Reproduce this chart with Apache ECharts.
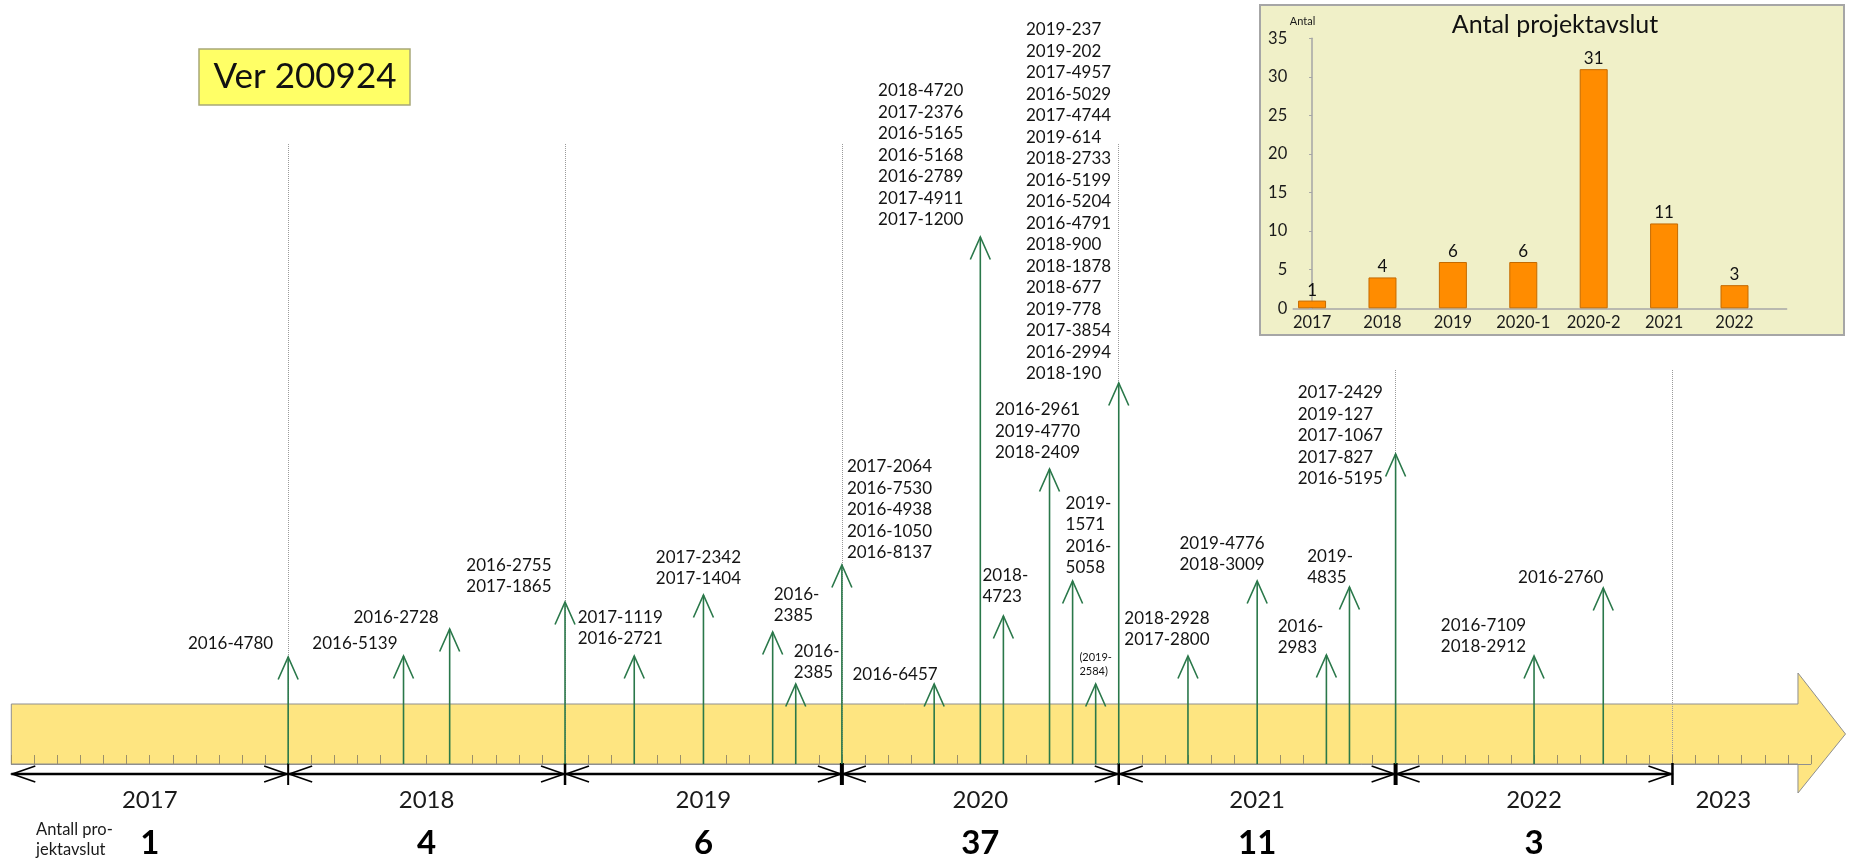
<!DOCTYPE html>
<html><head><meta charset="utf-8">
<script src="https://cdn.jsdelivr.net/npm/echarts@6/dist/echarts.min.js"></script>
<style>html,body{margin:0;padding:0;background:#fff}#c{width:1852px;height:861px}</style>
</head><body><div id="c"></div>
<script>
// ================= DATA =================
const yearLabels = ['2017','2018','2019','2020','2021','2022','2023'];
const yearCounts = [1, 4, 6, 37, 11, 3];
// position of each arrow, in months after 1 Jan 2017
const eventMonths = [12,17,19,24,27,30,33,34,36,40,42,43,45,46,47,48,51,54,57,58,60,66,69];
// arrow heights above the timeline band (layout units)
const eventHeights = [107,108,135,162,108,169,132,80,199,80,527,148,295,183,80,381,108,183,109,177,310,108,176];
const eventIds = [
  ['2016-4780'],
  ['2016-5139'],
  ['2016-2728'],
  ['2016-2755','2017-1865'],
  ['2017-1119','2016-2721'],
  ['2017-2342','2017-1404'],
  ['2016-','2385'],
  ['2016-','2385'],
  ['2017-2064','2016-7530','2016-4938','2016-1050','2016-8137'],
  ['2016-6457'],
  ['2018-4720','2017-2376','2016-5165','2016-5168','2016-2789','2017-4911','2017-1200'],
  ['2018-','4723'],
  ['2016-2961','2019-4770','2018-2409'],
  ['2019-','1571','2016-','5058'],
  ['(2019-','2584)'],
  ['2019-237','2019-202','2017-4957','2016-5029','2017-4744','2019-614','2018-2733','2016-5199','2016-5204','2016-4791','2018-900','2018-1878','2018-677','2019-778','2017-3854','2016-2994','2018-190'],
  ['2018-2928','2017-2800'],
  ['2019-4776','2018-3009'],
  ['2016-','2983'],
  ['2019-','4835'],
  ['2017-2429','2019-127','2017-1067','2017-827','2016-5195'],
  ['2016-7109','2018-2912'],
  ['2016-2760']
];
const insetCategories = ['2017','2018','2019','2020-1','2020-2','2021','2022'];
const insetValues = [1, 4, 6, 6, 31, 11, 3];
const versionLabel = 'Ver 200924';
const insetTitle = 'Antal projektavslut';
const insetAxisName = 'Antal';
const countRowLabel = 'Antall pro-\njektavslut';

// ================= STYLE / LAYOUT =================
const FONT = 'Lato, "Open Sans", sans-serif';
const GREEN = '#2a784a';
const TXT = '#141414';
// label block placement per arrow: [which block edge is anchored, x offset, offset of last line centre from tip]
const labelPlace = [
  ['right',-15,-13],['right',-6,-12],['right',-11,-11],['right',-13.5,-15],
  ['center',-14,-17],['center',-5,-16],['left',1,-16],['left',-2,-11],
  ['left',5,-12],['right',3.5,-9],['right',-17,-17],['center',2,-19],
  ['center',-12,-16],['left',-7,-13],['center',0,-13],['right',-7.6,-9.4],
  ['center',-21,-16],['right',7.5,-16],['right',-3,-7],['right',3.5,-9],
  ['right',-12.7,25],['right',-8,-9],['right',0,-10]
];
const smallLabelIndex = 14;
const band = {bodyEnd: 77.44, tip: 79.5, top: 60, headTop: 91, headBottom: -29};
const boundaryWidth = [2, 2.5, 4, 2.5, 4, 2.5];
const yearLabelCenter = i => (i < 6 ? 12 * i + 6 : 74.2);

const measureCtx = document.createElement('canvas').getContext('2d');
function blockWidth(lines, size) {
  measureCtx.font = size + 'px Lato';
  return Math.max.apply(null, lines.map(l => measureCtx.measureText(l).width));
}

const chart = echarts.init(document.getElementById('c'), null, {renderer: 'canvas'});

function renderBand(params, api) {
  const c = (m, h) => api.coord([m, h]);
  return {
    type: 'polygon',
    shape: {points: [c(0,0), c(band.bodyEnd,0), c(band.bodyEnd,band.headBottom), c(band.tip,band.top/2),
                     c(band.bodyEnd,band.headTop), c(band.bodyEnd,band.top), c(0,band.top)]},
    style: {fill: '#fee581', stroke: '#8f8f8f', lineWidth: 1}
  };
}

function renderYear(params, api) {
  const i = api.value(0);
  const ch = [];
  if (i < 6) {
    const a = api.coord([12 * i, -10]), b = api.coord([12 * i + 12, -10]);
    ch.push({type: 'line', shape: {x1: a[0], y1: a[1], x2: b[0], y2: b[1]}, style: {stroke: '#000', lineWidth: 2.5}});
    ch.push({type: 'polyline', shape: {points: [[a[0]+24, a[1]-8], [a[0]+1, a[1]], [a[0]+24, a[1]+8]]}, style: {stroke: '#000', lineWidth: 1.6, fill: 'none'}});
    ch.push({type: 'polyline', shape: {points: [[b[0]-24, b[1]-8], [b[0]-1, b[1]], [b[0]-24, b[1]+8]]}, style: {stroke: '#000', lineWidth: 1.6, fill: 'none'}});
    const t1 = api.coord([12 * i + 12, 1]), t2 = api.coord([12 * i + 12, -21]);
    ch.push({type: 'line', shape: {x1: t1[0], y1: t1[1], x2: t2[0], y2: t2[1]}, style: {stroke: '#000', lineWidth: boundaryWidth[i]}});
  }
  const lp = api.coord([yearLabelCenter(i), -36]);
  ch.push({type: 'text', style: {text: yearLabels[i], x: lp[0], y: lp[1], align: 'center', verticalAlign: 'middle',
    textAlign: 'center', textVerticalAlign: 'middle', fontFamily: FONT, fontSize: 24, fill: '#1a1a1a'}});
  if (i < yearCounts.length) {
    const cp = api.coord([yearLabelCenter(i), -79]);
    ch.push({type: 'text', style: {text: String(yearCounts[i]), x: cp[0], y: cp[1], align: 'center', verticalAlign: 'middle',
      textAlign: 'center', textVerticalAlign: 'middle', fontFamily: FONT, fontSize: 33, fontWeight: 'bold', fill: '#000'}});
  }
  return {type: 'group', children: ch};
}

function renderEvent(params, api) {
  const i = params.dataIndex;
  const base = api.coord([api.value(0), 0]);
  const tip = api.coord([api.value(0), api.value(1)]);
  const p = labelPlace[i];
  const small = i === smallLabelIndex;
  const size = small ? 11 : 17;
  const lh = small ? 13.7 : 21.5;
  const w = blockWidth(eventIds[i], size);
  const anchor = tip[0] + p[1];
  const left = p[0] === 'right' ? anchor - w : (p[0] === 'center' ? anchor - w / 2 : anchor);
  return {type: 'group', children: [
    {type: 'line', shape: {x1: base[0], y1: base[1], x2: tip[0], y2: tip[1]}, style: {stroke: GREEN, lineWidth: 1.6}},
    {type: 'polyline', shape: {points: [[tip[0]-10, tip[1]+22.5], [tip[0], tip[1]], [tip[0]+10, tip[1]+22.5]]},
      style: {stroke: GREEN, lineWidth: 1.6, fill: 'none'}},
    {type: 'text', style: {text: eventIds[i].join('\n'), x: left, y: tip[1] + p[2] + lh / 2,
      align: 'left', verticalAlign: 'bottom', textAlign: 'left', textVerticalAlign: 'bottom',
      fontFamily: FONT, fontSize: size, lineHeight: lh, fill: TXT}}
  ]};
}

const option = {
  animation: false,
  backgroundColor: '#ffffff',
  title: {text: insetTitle, left: 1550, top: 6, textAlign: 'center', z: 7,
    textStyle: {fontFamily: FONT, fontSize: 25, fontWeight: 'normal', color: '#111', lineHeight: 28}},
  grid: [
    {left: 11.3, right: 41.1, top: 144, bottom: 97},
    {left: 1293.2, right: 65.4, top: 38.3, bottom: 552.7, z: 6}
  ],
  xAxis: [
    {gridIndex: 0, type: 'value', min: 0, max: 78, interval: 12, z: 2,
      axisLine: {show: true, onZero: false, lineStyle: {color: '#8f8f8f', width: 1}},
      axisTick: {show: true, inside: true, length: 9, lineStyle: {color: '#9a8f6a', width: 1}},
      minorTick: {show: true, splitNumber: 12, length: 9, lineStyle: {color: '#9a8f6a', width: 1}},
      axisLabel: {show: false},
      splitLine: {show: true, showMinLine: false, showMaxLine: false, lineStyle: {type: 'dotted', color: '#9a9a9a', width: 1}}},
    {gridIndex: 1, type: 'value', min: -0.268, max: 6.74, z: 6,
      axisLine: {show: true, lineStyle: {color: '#a6a6a6', width: 1.5}},
      axisTick: {show: false},
      axisLabel: {customValues: [0,1,2,3,4,5,6], formatter: v => insetCategories[Math.round(v)],
        fontFamily: FONT, fontSize: 16.5, color: '#1a1a1a', margin: 6},
      splitLine: {show: false}}
  ],
  yAxis: [
    {gridIndex: 0, type: 'value', min: 0, max: 620, show: false},
    {gridIndex: 1, type: 'value', min: 0, max: 35, interval: 5, z: 6,
      name: insetAxisName, nameLocation: 'end', nameGap: 11,
      nameTextStyle: {fontFamily: FONT, fontSize: 11, color: '#1a1a1a', padding: [0, 19, 0, 0]},
      axisLine: {show: true, lineStyle: {color: '#a6a6a6', width: 1.5}},
      axisTick: {show: true, length: 3, lineStyle: {color: '#a6a6a6'}},
      axisLabel: {fontFamily: FONT, fontSize: 16.5, color: '#1a1a1a', margin: 6},
      splitLine: {show: false}}
  ],
  graphic: [
    {type: 'rect', z: 4, silent: true, shape: {x: 1240, y: 0, width: 612, height: 369}, style: {fill: '#ffffff'}},
    {type: 'rect', z: 5, silent: true, shape: {x: 1260, y: 5, width: 584, height: 330}, style: {fill: '#f0f0c8', stroke: '#a6a6a6', lineWidth: 2}},
    {type: 'rect', z: 6, silent: true, shape: {x: 199, y: 49, width: 211, height: 56}, style: {fill: '#ffff66', stroke: '#a8a878', lineWidth: 1.5}},
    {type: 'text', z: 7, silent: true, style: {text: versionLabel, x: 305, y: 77, align: 'center', verticalAlign: 'middle',
      textAlign: 'center', textVerticalAlign: 'middle', fontFamily: FONT, fontSize: 35, fill: '#111'}},
    {type: 'text', z: 7, silent: true, style: {text: countRowLabel, x: 36, y: 840, align: 'left', verticalAlign: 'middle',
      textAlign: 'left', textVerticalAlign: 'middle', fontFamily: FONT, fontSize: 16.5, lineHeight: 20, fill: '#1a1a1a'}}
  ],
  series: [
    {type: 'custom', name: 'band', xAxisIndex: 0, yAxisIndex: 0, z: 1, clip: false, silent: true,
      data: [[0]], renderItem: renderBand},
    {type: 'custom', name: 'years', xAxisIndex: 0, yAxisIndex: 0, z: 3, clip: false, silent: true,
      data: yearLabels.map((l, i) => [i]), renderItem: renderYear},
    {type: 'custom', name: 'events', xAxisIndex: 0, yAxisIndex: 0, z: 3, clip: false, silent: true,
      data: eventMonths.map((m, i) => [m, eventHeights[i]]), renderItem: renderEvent},
    {type: 'bar', name: insetTitle, xAxisIndex: 1, yAxisIndex: 1, z: 6, barWidth: 28,
      data: insetValues.map((v, i) => [i, v]),
      itemStyle: {color: '#ff8c00', borderColor: '#c46a00', borderWidth: 1},
      label: {show: true, position: 'top', distance: 2, fontFamily: FONT, fontSize: 17, color: '#111'}}
  ]
};
chart.setOption(option);
</script>
</body></html>
